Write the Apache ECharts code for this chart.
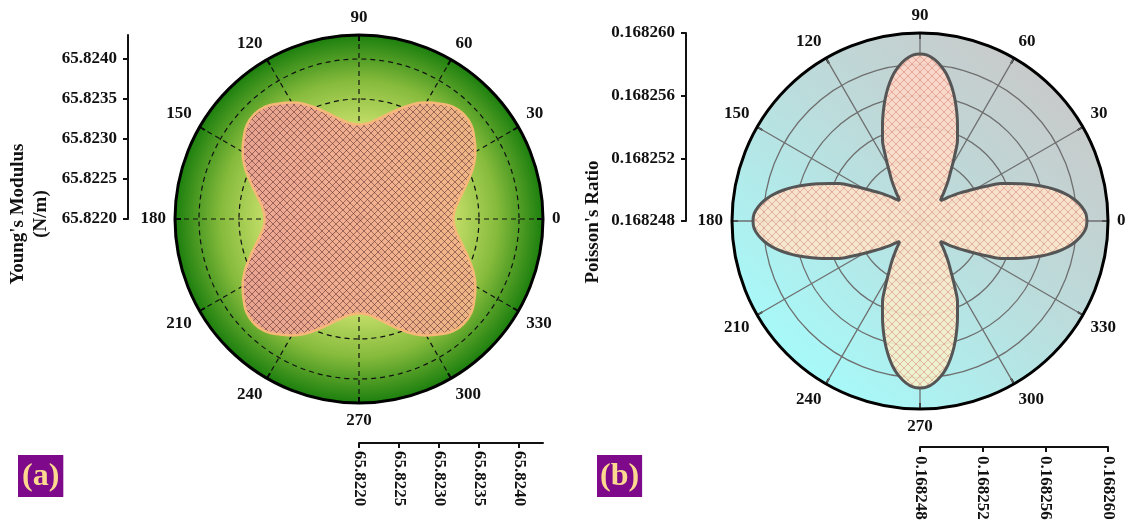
<!DOCTYPE html>
<html>
<head>
<meta charset="utf-8">
<script src="https://cdn.jsdelivr.net/npm/echarts@6/dist/echarts.min.js"></script>
<style>
  html, body { margin: 0; padding: 0; background: #ffffff; }
  #chart { width: 1126px; height: 520px; }
</style>
</head>
<body>
<div id="chart"></div>
<script>
// Directions (degrees) at which Young's modulus is sampled
const youngAngles = [
  0, 5, 10, 15, 20, 25, 30, 35, 40, 45, 50, 55, 60, 65, 70, 75, 80, 85,
  90, 95, 100, 105, 110, 115, 120, 125, 130, 135, 140, 145, 150, 155, 160, 165, 170, 175,
  180, 185, 190, 195, 200, 205, 210, 215, 220, 225, 230, 235, 240, 245, 250, 255, 260, 265,
  270, 275, 280, 285, 290, 295, 300, 305, 310, 315, 320, 325, 330, 335, 340, 345, 350, 355,
  360
];

// Young's modulus (N/m) versus direction
const youngModulus = [
  65.82318, 65.82320, 65.82326, 65.82335, 65.82346, 65.82358, 65.82368, 65.82376, 65.82383,
  65.82385, 65.82383, 65.82376, 65.82368, 65.82358, 65.82346, 65.82335, 65.82326, 65.82320,
  65.82318, 65.82320, 65.82326, 65.82335, 65.82346, 65.82358, 65.82368, 65.82376, 65.82383,
  65.82385, 65.82383, 65.82376, 65.82368, 65.82358, 65.82346, 65.82335, 65.82326, 65.82320,
  65.82318, 65.82320, 65.82326, 65.82335, 65.82346, 65.82358, 65.82368, 65.82376, 65.82383,
  65.82385, 65.82383, 65.82376, 65.82368, 65.82358, 65.82346, 65.82335, 65.82326, 65.82320,
  65.82318, 65.82320, 65.82326, 65.82335, 65.82346, 65.82358, 65.82368, 65.82376, 65.82383,
  65.82385, 65.82383, 65.82376, 65.82368, 65.82358, 65.82346, 65.82335, 65.82326, 65.82320,
  65.82318
];

// Directions (degrees) at which Poisson's ratio is sampled
const poissonAngles = [
  0, 2.5, 5, 7.5, 10, 12.5, 15, 17.5, 20, 22.5, 25, 27.5, 30, 32.5, 35, 37.5, 40, 42.5,
  45, 47.5, 50, 52.5, 55, 57.5, 60, 62.5, 65, 67.5, 70, 72.5, 75, 77.5, 80, 82.5, 85, 87.5,
  90, 92.5, 95, 97.5, 100, 102.5, 105, 107.5, 110, 112.5, 115, 117.5, 120, 122.5, 125, 127.5, 130, 132.5,
  135, 137.5, 140, 142.5, 145, 147.5, 150, 152.5, 155, 157.5, 160, 162.5, 165, 167.5, 170, 172.5, 175, 177.5,
  180, 182.5, 185, 187.5, 190, 192.5, 195, 197.5, 200, 202.5, 205, 207.5, 210, 212.5, 215, 217.5, 220, 222.5,
  225, 227.5, 230, 232.5, 235, 237.5, 240, 242.5, 245, 247.5, 250, 252.5, 255, 257.5, 260, 262.5, 265, 267.5,
  270, 272.5, 275, 277.5, 280, 282.5, 285, 287.5, 290, 292.5, 295, 297.5, 300, 302.5, 305, 307.5, 310, 312.5,
  315, 317.5, 320, 322.5, 325, 327.5, 330, 332.5, 335, 337.5, 340, 342.5, 345, 347.5, 350, 352.5, 355, 357.5,
  360
];

// Poisson's ratio versus direction
const poissonRatio = [
  0.16825866, 0.16825860, 0.16825837, 0.16825802, 0.16825757, 0.16825700, 0.16825636, 0.16825566, 0.16825496,
  0.16825426, 0.16825366, 0.16825285, 0.16825215, 0.16825157, 0.16825113, 0.16825071, 0.16825036, 0.16825004,
  0.16824985, 0.16825004, 0.16825036, 0.16825071, 0.16825113, 0.16825157, 0.16825215, 0.16825285, 0.16825366,
  0.16825426, 0.16825496, 0.16825566, 0.16825636, 0.16825700, 0.16825757, 0.16825802, 0.16825837, 0.16825860,
  0.16825866, 0.16825860, 0.16825837, 0.16825802, 0.16825757, 0.16825700, 0.16825636, 0.16825566, 0.16825496,
  0.16825426, 0.16825366, 0.16825285, 0.16825215, 0.16825157, 0.16825113, 0.16825071, 0.16825036, 0.16825004,
  0.16824985, 0.16825004, 0.16825036, 0.16825071, 0.16825113, 0.16825157, 0.16825215, 0.16825285, 0.16825366,
  0.16825426, 0.16825496, 0.16825566, 0.16825636, 0.16825700, 0.16825757, 0.16825802, 0.16825837, 0.16825860,
  0.16825866, 0.16825860, 0.16825837, 0.16825802, 0.16825757, 0.16825700, 0.16825636, 0.16825566, 0.16825496,
  0.16825426, 0.16825366, 0.16825285, 0.16825215, 0.16825157, 0.16825113, 0.16825071, 0.16825036, 0.16825004,
  0.16824985, 0.16825004, 0.16825036, 0.16825071, 0.16825113, 0.16825157, 0.16825215, 0.16825285, 0.16825366,
  0.16825426, 0.16825496, 0.16825566, 0.16825636, 0.16825700, 0.16825757, 0.16825802, 0.16825837, 0.16825860,
  0.16825866, 0.16825860, 0.16825837, 0.16825802, 0.16825757, 0.16825700, 0.16825636, 0.16825566, 0.16825496,
  0.16825426, 0.16825366, 0.16825285, 0.16825215, 0.16825157, 0.16825113, 0.16825071, 0.16825036, 0.16825004,
  0.16824985, 0.16825004, 0.16825036, 0.16825071, 0.16825113, 0.16825157, 0.16825215, 0.16825285, 0.16825366,
  0.16825426, 0.16825496, 0.16825566, 0.16825636, 0.16825700, 0.16825757, 0.16825802, 0.16825837, 0.16825860,
  0.16825866
];

// Axis ranges and labelled ticks
const youngRange = [65.8220, 65.8243];
const youngTicks = [65.8220, 65.8225, 65.8230, 65.8235, 65.8240];
const poissonRange = [0.168248, 0.168260];
const poissonTicks = [0.168248, 0.168252, 0.168256, 0.168260];
const poissonRingStep = 0.000002;
const angleStep = 30;

// ---------------------------------------------------------------------------
const FONT = '"Liberation Serif", "Times New Roman", serif';
const A = { cx: 359, cy: 219, r: 184 };
const B = { cx: 920, cy: 221, r: 188 };

function hatchCanvas(size, color, width) {
  const c = document.createElement('canvas');
  c.width = size; c.height = size;
  const g = c.getContext('2d');
  g.strokeStyle = color;
  g.lineWidth = width;
  g.beginPath();
  for (const o of [-size, 0, size]) {
    g.moveTo(o, 0); g.lineTo(o + size, size);
    g.moveTo(o, size); g.lineTo(o + size, 0);
  }
  g.stroke();
  return c;
}
const hatchA = hatchCanvas(7, 'rgba(70,30,35,0.7)', 0.7);
const hatchB = hatchCanvas(8, 'rgba(205,85,75,0.55)', 0.7);

const youngData = youngAngles.map((a, i) => [youngModulus[i], a]);
const poissonData = poissonAngles.map((a, i) => [poissonRatio[i], a]);

function angleAxis(polarIndex, gridStyle) {
  return {
    polarIndex, type: 'value', min: 0, max: 360, interval: angleStep,
    startAngle: 0, clockwise: false,
    axisLine: { show: true, lineStyle: { color: '#000', width: 3 } },
    axisTick: { show: true, inside: true, length: 6, lineStyle: { color: '#000', width: 2 } },
    axisLabel: {
      margin: 9, color: '#111', fontFamily: FONT, fontWeight: 'bold', fontSize: 17,
      formatter: v => (v >= 360 ? '' : String(v))
    },
    splitLine: { show: true, lineStyle: gridStyle },
    splitArea: { show: false }
  };
}
function radiusAxis(polarIndex, range, step, gridStyle) {
  return {
    polarIndex, type: 'value', min: range[0], max: range[1], interval: step,
    axisLine: { show: false }, axisTick: { show: false }, axisLabel: { show: false },
    splitLine: { show: true, lineStyle: gridStyle },
    splitArea: { show: false }
  };
}

const dashed = { color: '#111', width: 1.2, type: [5, 4] };
const solid = { color: '#6f6f6f', width: 1.3, type: 'solid' };

const sideLabel = {
  color: '#111', fontFamily: FONT, fontWeight: 'bold', fontSize: 17
};
const sideLine = { show: true, onZero: false, lineStyle: { color: '#111', width: 2 } };
const sideTick = { show: true, length: 5, lineStyle: { color: '#111', width: 2 } };
const hidden = { show: false };

const option = {
  animation: false,
  backgroundColor: '#ffffff',
  polar: [
    { center: [A.cx, A.cy], radius: A.r },
    { center: [B.cx, B.cy], radius: B.r }
  ],
  angleAxis: [angleAxis(0, dashed), angleAxis(1, solid)],
  radiusAxis: [
    radiusAxis(0, youngRange, youngTicks[1] - youngTicks[0], dashed),
    radiusAxis(1, poissonRange, poissonRingStep, solid)
  ],
  grid: [
    { left: 128, top: A.cy - A.r, width: 1, height: A.r, outerBoundsMode: 'none' },
    { left: A.cx, top: 442, width: A.r, height: 1, outerBoundsMode: 'none' },
    { left: 686, top: B.cy - B.r, width: 1, height: B.r, outerBoundsMode: 'none' },
    { left: B.cx, top: 446, width: B.r, height: 1, outerBoundsMode: 'none' }
  ],
  xAxis: [
    { gridIndex: 0, type: 'value', show: false },
    {
      gridIndex: 1, type: 'value', position: 'bottom', min: youngRange[0], max: youngRange[1],
      axisLine: sideLine, splitLine: hidden,
      axisTick: Object.assign({ customValues: youngTicks }, sideTick),
      axisLabel: Object.assign({ customValues: youngTicks, rotate: -90, margin: 8,
        formatter: v => v.toFixed(4) }, sideLabel)
    },
    { gridIndex: 2, type: 'value', show: false },
    {
      gridIndex: 3, type: 'value', position: 'bottom', min: poissonRange[0], max: poissonRange[1],
      axisLine: sideLine, splitLine: hidden,
      axisTick: Object.assign({ customValues: poissonTicks }, sideTick),
      axisLabel: Object.assign({ customValues: poissonTicks, rotate: -90, margin: 9,
        formatter: v => v.toFixed(6) }, sideLabel)
    }
  ],
  yAxis: [
    {
      gridIndex: 0, type: 'value', position: 'left', min: youngRange[0], max: youngRange[1],
      axisLine: sideLine, splitLine: hidden,
      axisTick: Object.assign({ customValues: youngTicks }, sideTick),
      axisLabel: Object.assign({ customValues: youngTicks, margin: 11,
        formatter: v => v.toFixed(4) }, sideLabel)
    },
    { gridIndex: 1, type: 'value', show: false },
    {
      gridIndex: 2, type: 'value', position: 'left', min: poissonRange[0], max: poissonRange[1],
      axisLine: sideLine, splitLine: hidden,
      axisTick: Object.assign({ customValues: poissonTicks }, sideTick),
      axisLabel: Object.assign({ customValues: poissonTicks, margin: 11,
        formatter: v => v.toFixed(6) }, sideLabel)
    },
    { gridIndex: 3, type: 'value', show: false }
  ],
  graphic: [
    {
      type: 'circle', z: -10, silent: true,
      shape: { cx: A.cx, cy: A.cy, r: A.r },
      style: {
        fill: {
          type: 'radial', x: 0.5, y: 0.5, r: 0.5,
          colorStops: [
            { offset: 0, color: '#e4f28a' },
            { offset: 0.5, color: '#c6df6a' },
            { offset: 0.75, color: '#86bb3c' },
            { offset: 1, color: '#1c7f0e' }
          ]
        }
      }
    },
    {
      type: 'circle', z: -10, silent: true,
      shape: { cx: B.cx, cy: B.cy, r: B.r },
      style: {
        fill: {
          type: 'linear', x: 0.15, y: 0.9, x2: 0.85, y2: 0.1,
          colorStops: [
            { offset: 0, color: '#a6fbfb' },
            { offset: 0.55, color: '#bcdcdc' },
            { offset: 1, color: '#c9c9c9' }
          ]
        }
      }
    },
    {
      type: 'text', x: 30, y: 214, rotation: Math.PI / 2, silent: true,
      style: {
        text: "Young's Modulus\n(N/m)", fill: '#111',
        font: 'bold 19px ' + FONT, textAlign: 'center', textVerticalAlign: 'middle',
        align: 'center', verticalAlign: 'middle', lineHeight: 23
      }
    },
    {
      type: 'text', x: 593, y: 222, rotation: Math.PI / 2, silent: true,
      style: {
        text: "Poisson's Ratio", fill: '#111',
        font: 'bold 19px ' + FONT, textAlign: 'center', textVerticalAlign: 'middle',
        align: 'center', verticalAlign: 'middle'
      }
    },
    {
      type: 'text', x: 18, y: 455, silent: true,
      style: {
        text: '(a)', fill: '#fcd98f', font: 'bold 32px ' + FONT,
        backgroundColor: '#7e0a8b', padding: [2, 4, 0, 4], lineHeight: 40
      }
    },
    {
      type: 'text', x: 597, y: 455, silent: true,
      style: {
        text: '(b)', fill: '#fcd98f', font: 'bold 32px ' + FONT,
        backgroundColor: '#7e0a8b', padding: [2, 3, 0, 3], lineHeight: 40
      }
    }
  ],
  series: [
    {
      type: 'line', coordinateSystem: 'polar', polarIndex: 0, data: youngData,
      smooth: true, symbol: 'none', silent: true, z: 2,
      lineStyle: { opacity: 0 },
      areaStyle: {
        opacity: 0.93,
        color: {
          type: 'linear', x: 0, y: 0, x2: 1, y2: 0,
          colorStops: [
            { offset: 0, color: '#f0a196' },
            { offset: 1, color: '#f5b48a' }
          ]
        }
      }
    },
    {
      type: 'line', coordinateSystem: 'polar', polarIndex: 0, data: youngData,
      smooth: true, symbol: 'none', silent: true, z: 3,
      lineStyle: { color: '#f6b878', width: 2.5 },
      areaStyle: { opacity: 1, color: { image: hatchA, repeat: 'repeat' } }
    },
    {
      type: 'line', coordinateSystem: 'polar', polarIndex: 1, data: poissonData,
      smooth: 0.3, symbol: 'none', silent: true, z: 2,
      lineStyle: { opacity: 0 },
      areaStyle: {
        opacity: 0.9,
        color: {
          type: 'linear', x: 0, y: 0, x2: 0, y2: 1,
          colorStops: [
            { offset: 0, color: '#fdd6c8' },
            { offset: 0.5, color: '#fce6cc' },
            { offset: 1, color: '#f3f4cc' }
          ]
        }
      }
    },
    {
      type: 'line', coordinateSystem: 'polar', polarIndex: 1, data: poissonData,
      smooth: 0.3, symbol: 'none', silent: true, z: 3,
      lineStyle: { color: '#555555', width: 3 },
      areaStyle: { opacity: 1, color: { image: hatchB, repeat: 'repeat' } }
    }
  ]
};

const chart = echarts.init(document.getElementById('chart'), null, { renderer: 'canvas' });
chart.setOption(option);
</script>
</body>
</html>
